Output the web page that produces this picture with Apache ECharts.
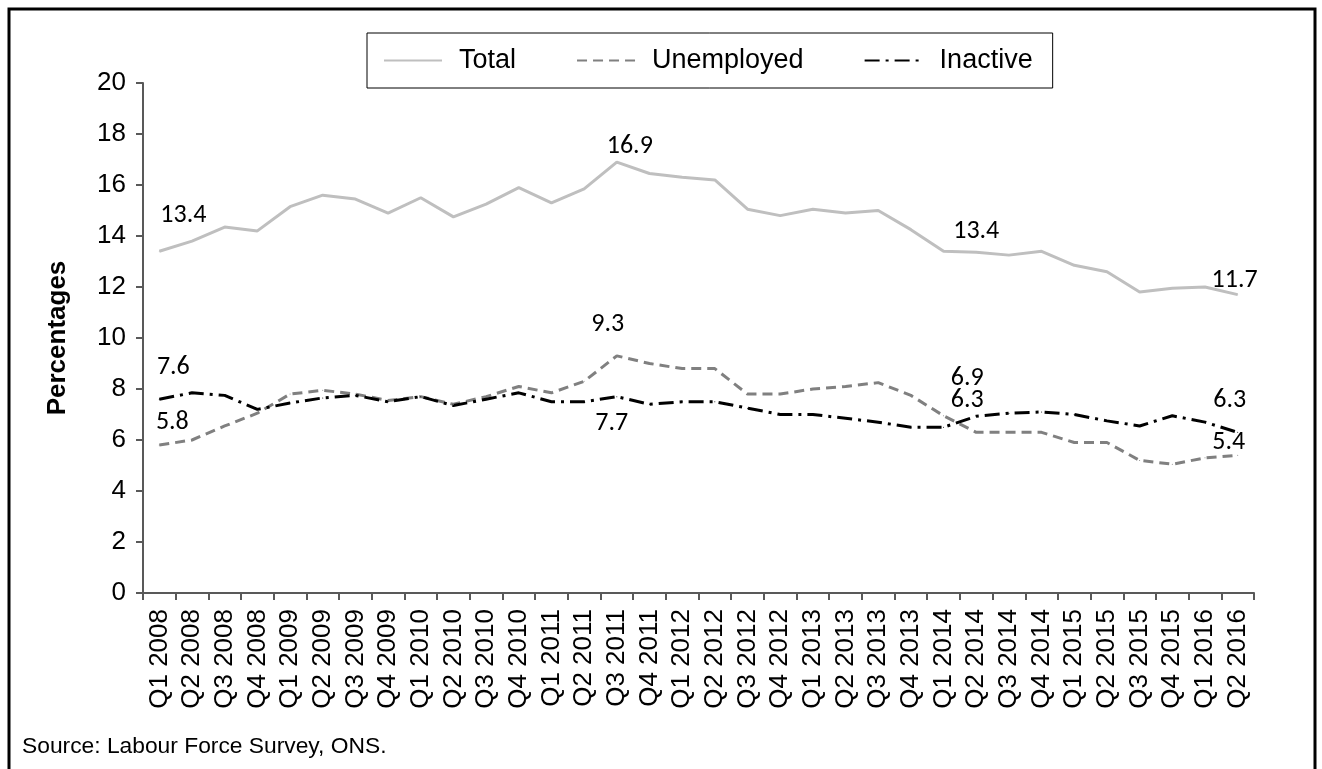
<!DOCTYPE html>
<html>
<head>
<meta charset="utf-8">
<script src="https://cdn.jsdelivr.net/npm/echarts@6/dist/echarts.min.js"></script>
<style>
  html, body { margin: 0; padding: 0; background: #fff; }
  #chart { width: 1322px; height: 769px; }
</style>
</head>
<body>
<div id="chart"></div>
<script>
// quarters
var quarters = ['Q1 2008','Q2 2008','Q3 2008','Q4 2008','Q1 2009','Q2 2009','Q3 2009','Q4 2009',
  'Q1 2010','Q2 2010','Q3 2010','Q4 2010','Q1 2011','Q2 2011','Q3 2011','Q4 2011',
  'Q1 2012','Q2 2012','Q3 2012','Q4 2012','Q1 2013','Q2 2013','Q3 2013','Q4 2013',
  'Q1 2014','Q2 2014','Q3 2014','Q4 2014','Q1 2015','Q2 2015','Q3 2015','Q4 2015',
  'Q1 2016','Q2 2016'];
// series values (%)
var total = [13.4, 13.8, 14.35, 14.2, 15.15, 15.6, 15.45, 14.9, 15.5, 14.75, 15.25, 15.9,
  15.3, 15.85, 16.9, 16.45, 16.3, 16.2, 15.05, 14.8, 15.05, 14.9, 15.0, 14.25,
  13.4, 13.36, 13.25, 13.4, 12.85, 12.6, 11.8, 11.95, 12.0, 11.7];
var unemployed = [5.8, 6.0, 6.55, 7.05, 7.8, 7.95, 7.8, 7.55, 7.7, 7.4, 7.7, 8.1,
  7.85, 8.3, 9.3, 9.0, 8.8, 8.8, 7.8, 7.8, 8.0, 8.1, 8.25, 7.75,
  6.95, 6.3, 6.3, 6.3, 5.9, 5.9, 5.2, 5.05, 5.3, 5.4];
var inactive = [7.6, 7.85, 7.75, 7.2, 7.45, 7.65, 7.75, 7.5, 7.7, 7.35, 7.6, 7.85,
  7.5, 7.5, 7.7, 7.4, 7.5, 7.5, 7.25, 7.0, 7.0, 6.85, 6.7, 6.5,
  6.5, 6.93, 7.05, 7.1, 7.0, 6.75, 6.55, 6.95, 6.7, 6.3];
var yTicks = [0, 20, 2]; // min, max, interval

// which points carry a data label, and where it sits
var totalLabels = {0: ['top', [24, -17]], 14: ['top', [13, 3]], 25: ['top', [0, -2]], 33: ['top', [-3, 4]]};
var unempLabels = {0: ['top', [13, -4]], 14: ['top', [-9, -13]], 25: ['top', [-9, -13]], 33: ['top', [-9, 6]]};
var inactLabels = {0: ['top', [14, -13]], 14: ['bottom', [-5, 8]], 25: ['top', [-9, -19]], 33: ['top', [-8, -13]]};

var font = '"Liberation Sans", Arial, sans-serif';

function buildData(values, labels) {
  return values.map(function (v, i) {
    var item = { value: v };
    if (labels[i]) {
      item.label = { show: true, position: labels[i][0], offset: labels[i][1] };
    }
    return item;
  });
}

function lineSeries(name, values, labels, color, dash) {
  return {
    name: name,
    type: 'line',
    data: buildData(values, labels),
    symbol: 'circle',
    symbolSize: 1,
    showSymbol: true,
    itemStyle: { color: color },
    lineStyle: { color: color, width: 3, type: dash, cap: 'butt' },
    label: {
      show: false,
      color: '#000',
      fontFamily: 'Carlito, Lato, sans-serif',
      fontSize: 26,
      formatter: function (p) { return p.value.toFixed(1); }
    },
    emphasis: { disabled: true },
    animation: false
  };
}

var myChart = echarts.init(document.getElementById('chart'));
var option = {
  animation: false,
  backgroundColor: '#fff',
  legend: {
    left: 367,
    top: 33,
    padding: [14, 20, 14, 16],
    borderColor: '#000',
    borderWidth: 1,
    itemGap: 60,
    itemWidth: 58,
    itemHeight: 14,
    itemStyle: { opacity: 0 },
    textStyle: { fontFamily: font, fontSize: 27, color: '#000', padding: [0, 0, 0, 12] },
    data: ['Total', 'Unemployed', 'Inactive']
  },
  grid: { left: 143, right: 68, top: 83, bottom: 176 },
  xAxis: {
    type: 'category',
    data: quarters,
    boundaryGap: true,
    axisLine: { lineStyle: { color: '#595959', width: 2 } },
    axisTick: { show: true, length: 7, lineStyle: { color: '#595959', width: 2 } },
    axisLabel: { rotate: 90, interval: 0, margin: 16, color: '#000', fontFamily: font, fontSize: 26 },
    splitLine: { show: false }
  },
  yAxis: {
    type: 'value',
    min: yTicks[0],
    max: yTicks[1],
    interval: yTicks[2],
    name: 'Percentages',
    nameLocation: 'middle',
    nameGap: 72,
    nameTextStyle: { fontFamily: font, fontSize: 26, fontWeight: 'bold', color: '#000' },
    axisLine: { show: true, lineStyle: { color: '#595959', width: 2 } },
    axisTick: { show: true, length: 7, lineStyle: { color: '#595959', width: 2 } },
    axisLabel: { margin: 17, color: '#000', fontFamily: font, fontSize: 26 },
    splitLine: { show: false }
  },
  graphic: [
    {
      type: 'rect',
      shape: { x: 9, y: 9, width: 1306, height: 780 },
      style: { fill: 'none', stroke: '#000', lineWidth: 3 },
      silent: true
    },
    {
      type: 'text',
      left: 22,
      top: 735,
      style: { text: 'Source: Labour Force Survey, ONS.', fontFamily: font, fontSize: 22.8, fill: '#000' }
    }
  ],
  series: [
    lineSeries('Total', total, totalLabels, '#BFBFBF', 'solid'),
    lineSeries('Unemployed', unemployed, unempLabels, '#808080', [10, 6]),
    lineSeries('Inactive', inactive, inactLabels, '#000000', [15, 6, 3, 6])
  ]
};
myChart.setOption(option);
</script>
</body>
</html>
